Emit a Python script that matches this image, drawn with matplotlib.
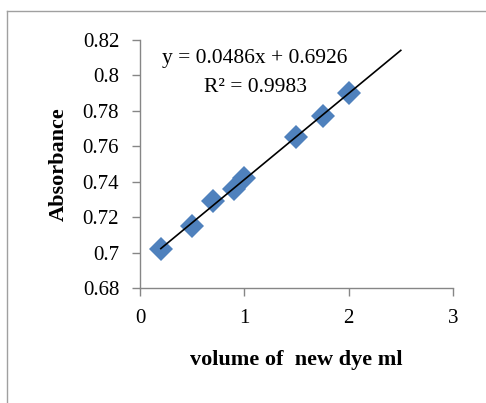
import numpy as np
import matplotlib.pyplot as plt
from matplotlib.lines import Line2D

# data
volume = [0.2, 0.5, 0.7, 0.9, 1.0, 1.5, 1.75, 2.0]
absorbance = [0.702, 0.715, 0.729, 0.736, 0.742, 0.765, 0.777, 0.790]
slope = 0.0486
intercept = 0.6926
r2 = 0.9983
fit_range = [0.2, 2.5]

plt.rcParams['font.family'] = ['Liberation Serif', 'DejaVu Serif']

fig = plt.figure(figsize=(4.86, 4.03), dpi=100)
ax = fig.add_axes([0.288, 0.285, 0.644, 0.616])

ax.plot(volume, absorbance, 'D', color='#4F81BD', markersize=12, markeredgewidth=0)
fx = np.array(fit_range)
ax.plot(fx, slope * fx + intercept, color='black', linewidth=1.2)

ax.set_xlim(0, 3)
ax.set_ylim(0.68, 0.82)
ax.set_xticks([0, 1, 2, 3])
ax.set_xticklabels(['0', '1', '2', '3'])
yt = [0.68, 0.70, 0.72, 0.74, 0.76, 0.78, 0.80, 0.82]
ax.set_yticks(yt)
ax.set_yticklabels(['0.68', '0.7', '0.72', '0.74', '0.76', '0.78', '0.8', '0.82'])
ax.tick_params(labelsize=15, length=6, color='#868686', width=1, pad=9)

for s in ['top', 'right']:
    ax.spines[s].set_visible(False)
for s in ['left', 'bottom']:
    ax.spines[s].set_color('#868686')
    ax.spines[s].set_linewidth(1)

ax.set_xlabel('volume of  new dye ml', fontsize=16, fontweight='bold', labelpad=16)
ax.set_ylabel('Absorbance', fontsize=16, fontweight='bold', labelpad=10)

ax.text(0.368, 0.927, 'y = %.4fx + %.4f' % (slope, intercept), transform=ax.transAxes,
        ha='center', va='center', fontsize=15.5)
ax.text(0.368, 0.81, 'R² = %.4f' % r2, transform=ax.transAxes,
        ha='center', va='center', fontsize=15.5)

# chart frame (left and top edges)
fig.add_artist(Line2D([7 / 486, 7 / 486], [0, 1 - 11 / 403], color='#a0a0a0', linewidth=1))
fig.add_artist(Line2D([7 / 486, 1], [1 - 11 / 403, 1 - 11 / 403], color='#a0a0a0', linewidth=1))

fig.savefig('out.png', dpi=100)
